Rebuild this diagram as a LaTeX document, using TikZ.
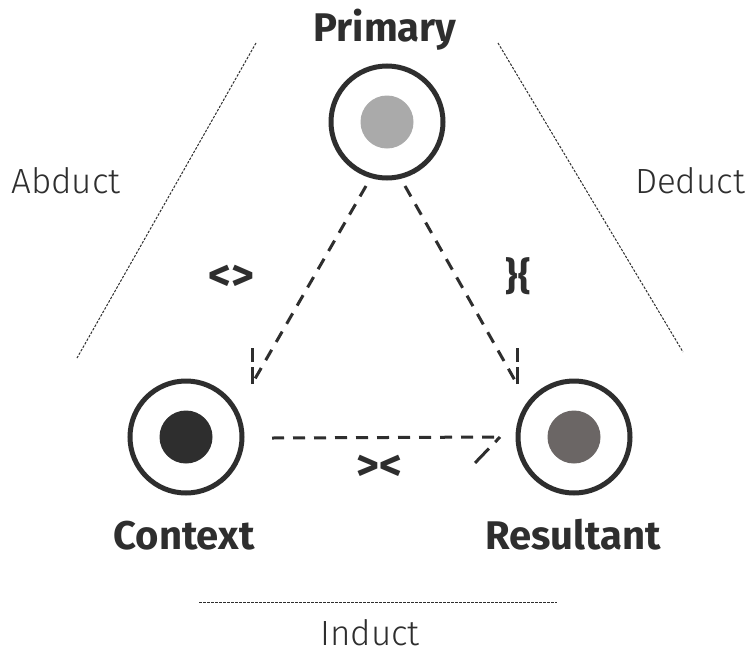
\documentclass[tikz,border=0pt]{standalone}
\usepackage{fontspec}
\setmainfont{Fira Sans}
\newfontfamily\lightfont{Fira Sans Light}
\definecolor{ink}{HTML}{2E2E2E}
\definecolor{gA}{HTML}{AAAAAA}
\definecolor{gB}{HTML}{2E2E2E}
\definecolor{gC}{HTML}{6B6665}
\begin{document}
\begin{tikzpicture}[x=1pt,y=-1pt,
  ring/.style={circle, draw=ink, line width=5pt, minimum size=112pt, inner sep=0pt},
  core/.style={circle, inner sep=0pt, minimum size=53pt},
  conn/.style={draw=ink, line width=3pt, dash pattern=on 12pt off 9pt},
  barb/.style={draw=ink, line width=3pt},
  guide/.style={draw=ink, line width=1pt, dash pattern=on 2.5pt off 1.5pt},
  lbl/.style={font=\bfseries\fontsize{40}{40}\selectfont, text=ink, anchor=base, inner sep=0pt},
  side/.style={font=\lightfont\fontsize{35}{35}\selectfont, text=ink, anchor=base, inner sep=0pt},
  sym/.style={font=\bfseries\fontsize{44}{44}\selectfont, text=ink, inner sep=0pt}]
\fill[white] (0,0) rectangle (749,656);
\useasboundingbox (0,0) rectangle (749,656);

% nodes
\node[ring] (P) at (387,122) {};
\node[core, fill=gA] (Pc) at (P) {};
\node[ring] (C) at (186,437) {};
\node[core, fill=gB] (Cc) at (C) {};
\node[ring] (R) at (574,437) {};
\node[core, fill=gC] (Rc) at (R) {};

% labels
\node[lbl] (tP) at (385,41) {Primary};
\node[lbl] (tC) at (184,549) {Context};
\node[lbl] (tR) at (573,549) {Resultant};
\node[side] (tA) at (66,193) {Abduct};
\node[side] (tD) at (690,193) {Deduct};
\node[side] (tI) at (370,645) {Induct};
\node[sym] (s1) at (231,278) {<>};
\node[sym, font=\bfseries\fontsize{38}{38}\selectfont] (s2) at (518,276) {\}\{};
\node[sym] (s3) at (379,468) {><};

% connector end points
\coordinate (p1) at (366,186);
\coordinate (c1) at (252,384);
\coordinate (p2) at (405,186);
\coordinate (r1) at (517,384);
\coordinate (c2) at (272,438);
\coordinate (r2) at (500,437);

\draw[conn] (p1) -- (c1);
\draw[barb, dash pattern=on 17pt off 5pt] (c1) -- ++(0,-36);
\draw[conn] (p2) -- (r1);
\draw[barb, dash pattern=on 17pt off 5pt] (r1) -- ++(0,-36);
\draw[conn] (c2) -- (r2);
\draw[barb, dash pattern=on 7pt off 9pt on 20pt] (r2) -- ++(-26,27);

% guide lines
\coordinate (a1) at (256,43);
\coordinate (a2) at (77,358);
\coordinate (d1) at (498,43);
\coordinate (d2) at (683,352);
\coordinate (i1) at (199,602);
\coordinate (i2) at (557,602);
\draw[guide] (a1) -- (a2);
\draw[guide] (d1) -- (d2);
\draw[guide] (i1) -- (i2);
\end{tikzpicture}
\end{document}
